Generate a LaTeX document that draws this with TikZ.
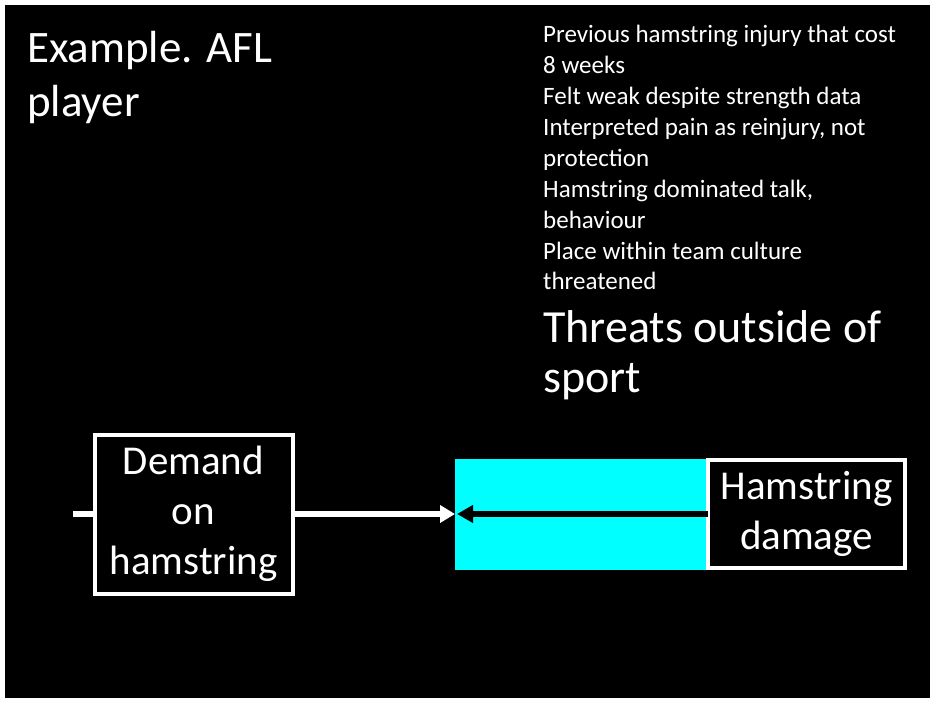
\documentclass[tikz,border=0pt]{standalone}
\usepackage{fontspec}
\setmainfont{Carlito}
\usetikzlibrary{positioning,arrows.meta}
\definecolor{zonecyan}{RGB}{0,255,255}

\begin{document}
\begin{tikzpicture}[x=1pt, y=-1pt, node distance=0pt,
    box/.style = {draw=white, line width=4pt, fill=black, text=white, inner sep=0pt, outer sep=0pt, align=center, font=\fontsize{41}{50}\selectfont},
    txt/.style = {text=white, inner sep=0pt, anchor=base west, align=left}]
        % slide background
        \fill[white] (0,0) rectangle (935,703);
        \fill[black] (5,5) rectangle (930,698);
        \useasboundingbox (0,0) rectangle (935,703);

        % base anchor sits on the last line
        \node[txt, font=\fontsize{45}{54}\selectfont]	 (title)   at (27,117)  {Example. AFL\\player};
        \node[txt, font=\fontsize{25}{30.9}\selectfont] (notes)   at (543,290) {Previous hamstring injury that cost\\8 weeks\\Felt weak despite strength data\\Interpreted pain as reinjury, not\\protection\\Hamstring dominated talk,\\behaviour\\Place within team culture\\threatened};
        \node[txt, font=\fontsize{46}{51}\selectfont]	 (threats) at (543,393) {Threats outside of\\sport};

        \node[box, minimum width=198pt, minimum height=159pt] (demand) at (193.5,514) {Demand\\on\\hamstring};
        \node[fill=zonecyan, inner sep=0pt, outer sep=0pt, minimum width=255pt, minimum height=111pt] (zone) at (582.5,514) {};
        \node[box, minimum width=197pt, minimum height=108pt, right=of zone, xshift=-2pt] (damage) {Hamstring\\damage};
        \coordinate (stub) at (73,514);

        \draw[white, line width=6pt] (stub) -- (demand.west);
        \draw[white, line width=6pt, -{Triangle[length=15pt, width=17pt]}] (demand.east) -- (zone.west);
        \draw[black, line width=6pt, -{Triangle[length=16pt, width=17pt]}] (damage.west) -- ([xshift=2pt]zone.west);
\end{tikzpicture}
\end{document}
